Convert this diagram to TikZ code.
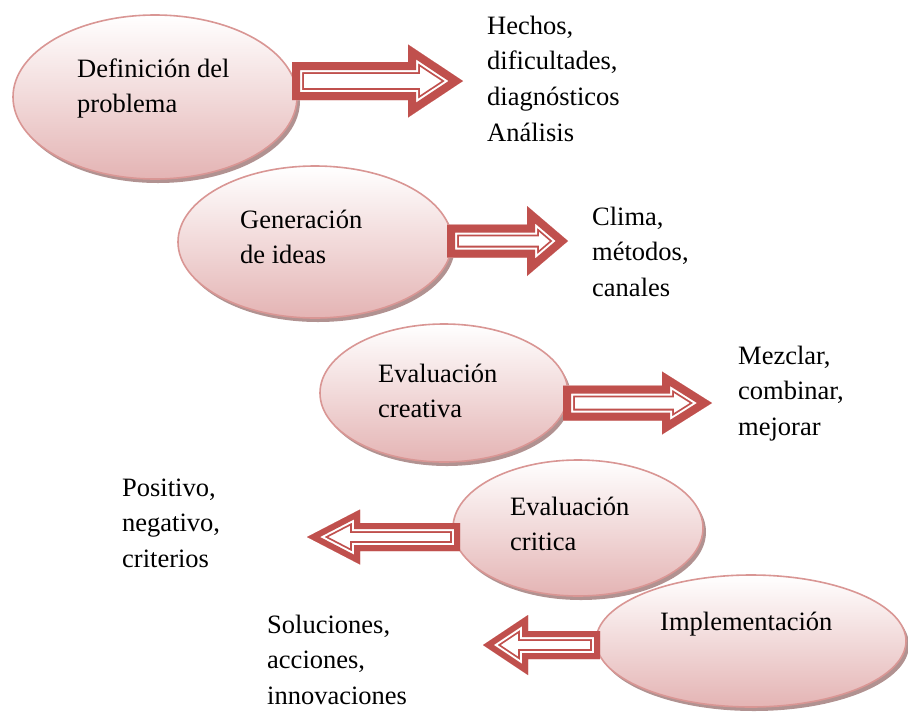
\documentclass[tikz,border=0pt]{standalone}
\usepackage{fontspec}
\setmainfont{Liberation Serif}
\usetikzlibrary{shapes.geometric,shadows,calc}

\definecolor{arrowred}{HTML}{C0504D}
\definecolor{rimrose}{HTML}{D99694}
\definecolor{pinkfill}{HTML}{E4B4B4}
\definecolor{shadowrose}{HTML}{A88685}

% outline of a block arrow: tail, tip, head length, body half, head half
\newcommand{\arrowshape}[5]{let \p1=(#1), \p2=(#2),
  \n1={ifthenelse(\x2>\x1,1,-1)}, \p3=({\x2-\n1*#3},\y1) in
  (\x1,\y1+#4) -- (\x3,\y1+#4) -- (\x3,\y1+#5) -- (\x2,\y2)
  -- (\x3,\y1-#5) -- (\x3,\y1-#4) -- (\x1,\y1-#4) -- cycle}
% block arrow with red rim and thin inner line
\newcommand{\blockarrow}[6]{%
  \begin{scope}
    \fill[white] \arrowshape{#1}{#2}{#3}{#4}{#5};
    \clip \arrowshape{#1}{#2}{#3}{#4}{#5};
    \draw[arrowred, line width={2*(#6+3.8pt)}] \arrowshape{#1}{#2}{#3}{#4}{#5};
    \draw[white, line width={2*(#6+2pt)}] \arrowshape{#1}{#2}{#3}{#4}{#5};
    \draw[arrowred, line width={2*#6}] \arrowshape{#1}{#2}{#3}{#4}{#5};
  \end{scope}}

\tikzset{
  stage/.style={ellipse, draw=rimrose, line width=1.6pt,
    top color=white, bottom color=pinkfill,
    drop shadow={shadow xshift=3pt, shadow yshift=-4pt, fill=shadowrose, opacity=.9}},
  % placed at the baseline of the last line
  note/.style={anchor=base west, align=left, inner sep=0pt,
    font=\fontsize{26.5}{35.7}\selectfont}
}

\begin{document}
\begin{tikzpicture}[x=1pt, y=-1pt]
\useasboundingbox (0,0) rectangle (908,713);

% etapas
\node[stage, minimum width=284pt, minimum height=164pt] (defin) at (155,97) {};
\node[stage, minimum width=274pt, minimum height=152pt] (gener) at (315,242) {};
\node[stage, minimum width=248pt, minimum height=138pt] (evcrea) at (444,393) {};
\node[stage, minimum width=250pt, minimum height=136pt] (evcrit) at (578,528) {};
\node[stage, minimum width=310pt, minimum height=132pt] (impl) at (751,641) {};

\node[note] (tdefin) at (77,112.7) {Definición del\\problema};
\node[note] (tgener) at (240,263.7) {Generación\\de ideas};
\node[note] (tevcrea) at (378,417.7) {Evaluación\\creativa};
\node[note] (tevcrit) at (510,550.7) {Evaluación\\critica};
\node[note] (timpl) at (660,630) {Implementación};

% flechas
\coordinate (a1) at (292,81);  \coordinate (b1) at (463,81);
\coordinate (a2) at (447,241); \coordinate (b2) at (568,241);
\coordinate (a3) at (563,403); \coordinate (b3) at (712,403);
\coordinate (a4) at (460,537); \coordinate (b4) at (307,537);
\coordinate (a5) at (600,645); \coordinate (b5) at (483,645);
\blockarrow{a1}{b1}{55pt}{19pt}{36.5pt}{8pt}
\blockarrow{a2}{b2}{41pt}{16.5pt}{35pt}{8pt}
\blockarrow{a3}{b3}{50pt}{17.5pt}{31.5pt}{8pt}
\blockarrow{a4}{b4}{53pt}{14pt}{27.5pt}{6pt}
\blockarrow{a5}{b5}{45pt}{14pt}{30pt}{6pt}

% resultados
\node[note] (hechos) at (487,141.1) {Hechos,\\dificultades,\\diagnósticos\\Análisis};
\node[note] (clima) at (592,296.4) {Clima,\\métodos,\\canales};
\node[note] (mezclar) at (738,435.4) {Mezclar,\\combinar,\\mejorar};
\node[note] (positivo) at (122,567.4) {Positivo,\\negativo,\\criterios};
\node[note] (soluc) at (267,704.4) {Soluciones,\\acciones,\\innovaciones};
\end{tikzpicture}
\end{document}
